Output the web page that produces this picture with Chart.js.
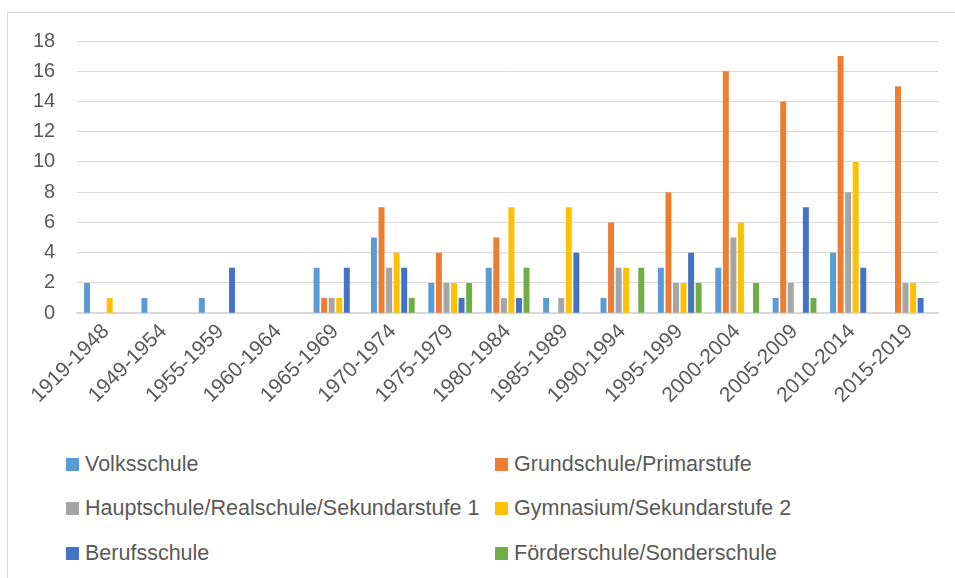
<!DOCTYPE html>
<html>
<head>
    <title>Schulen nach Zeitraum</title>
    <style>
        body {
            margin: 0;
            padding: 0;
            background-color: #ffffff;
            font-family: "Liberation Sans", Arial, sans-serif;
            overflow: hidden;
        }

        .frame {
            position: absolute;
            left: 7px;
            top: 12px;
            width: 960px;
            height: 600px;
            border: 1px solid #d9d9d9;
            box-sizing: border-box;
        }

        .chart-box {
            position: absolute;
            left: 7px;
            top: 12px;
            width: 946px;
            height: 402px;
        }

        /* legend in two columns, like the office chart */
        .legend {
            position: absolute;
            left: 66px;
            top: 442px;
            display: grid;
            grid-template-columns: 429px 400px;
            grid-auto-rows: 44.5px;
            font-size: 21.5px;
            color: #595959;
            white-space: nowrap;
        }

        .legend div {
            display: flex;
            align-items: center;
        }

        .legend span.box {
            display: inline-block;
            width: 13px;
            height: 13px;
            margin-right: 6px;
        }
    </style>
    <script src="https://cdn.jsdelivr.net/npm/chart.js"></script>
</head>
<body>
    <div class="frame"></div>
    <div class="chart-box">
        <canvas id="myChart"></canvas>
    </div>
    <div class="legend" id="legend"></div>

    <script>
        const periods = ['1919-1948', '1949-1954', '1955-1959', '1960-1964', '1965-1969',
            '1970-1974', '1975-1979', '1980-1984', '1985-1989', '1990-1994',
            '1995-1999', '2000-2004', '2005-2009', '2010-2014', '2015-2019'];

        const volksschule   = [2, 1, 1, 0, 3, 5, 2, 3, 1, 1, 3, 3, 1, 4, 0];
        const grundschule   = [0, 0, 0, 0, 1, 7, 4, 5, 0, 6, 8, 16, 14, 17, 15];
        const hauptschule   = [0, 0, 0, 0, 1, 3, 2, 1, 1, 3, 2, 5, 2, 8, 2];
        const gymnasium     = [1, 0, 0, 0, 1, 4, 2, 7, 7, 3, 2, 6, 0, 10, 2];
        const berufsschule  = [0, 0, 3, 0, 3, 3, 1, 1, 4, 0, 4, 0, 7, 3, 1];
        const foerderschule = [0, 0, 0, 0, 0, 1, 2, 3, 0, 3, 2, 2, 1, 0, 0];

        const yTicks = [0, 2, 4, 6, 8, 10, 12, 14, 16, 18];

        const series = [
            { label: 'Volksschule', data: volksschule, color: '#5b9bd5' },
            { label: 'Grundschule/Primarstufe', data: grundschule, color: '#ed7d31' },
            { label: 'Hauptschule/Realschule/Sekundarstufe 1', data: hauptschule, color: '#a5a5a5' },
            { label: 'Gymnasium/Sekundarstufe 2', data: gymnasium, color: '#ffc000' },
            { label: 'Berufsschule', data: berufsschule, color: '#4472c4' },
            { label: 'Förderschule/Sonderschule', data: foerderschule, color: '#70ad47' }
        ];

        const fontFamily = '"Liberation Sans", Arial, sans-serif';

        document.addEventListener("DOMContentLoaded", function() {
            var ctx = document.getElementById('myChart').getContext('2d');
            var myChart = new Chart(ctx, {
                type: 'bar',
                data: {
                    labels: periods,
                    datasets: series.map(s => ({
                        label: s.label,
                        data: s.data,
                        backgroundColor: s.color,
                        borderWidth: 0,
                        categoryPercentage: 0.79,
                        barPercentage: 0.79
                    }))
                },
                options: {
                    responsive: true,
                    maintainAspectRatio: false,
                    animation: false,
                    layout: {
                        padding: { left: 4, right: 15, top: 29, bottom: 0 }
                    },
                    plugins: {
                        legend: { display: false },
                        tooltip: { enabled: false }
                    },
                    scales: {
                        x: {
                            // rotated labels may hang out to the left, like in excel
                            afterFit: s => { s.paddingLeft = 0; s.paddingRight = 0; },
                            grid: { display: false, drawTicks: false },
                            border: { color: '#d9d9d9', width: 1.5 },
                            ticks: {
                                color: '#595959',
                                font: { size: 21, family: fontFamily },
                                maxRotation: 45,
                                minRotation: 45,
                                padding: 6
                            }
                        },
                        y: {
                            min: 0,
                            max: 18,
                            afterBuildTicks: axis => {
                                axis.ticks = yTicks.map(v => ({ value: v }));
                            },
                            afterFit: s => { s.paddingTop = 0; s.paddingBottom = 0; },
                            grid: { color: '#d9d9d9', drawTicks: false },
                            border: { display: false },
                            ticks: {
                                color: '#595959',
                                font: { size: 20, family: fontFamily },
                                padding: 22
                            }
                        }
                    }
                }
            });

            // html legend built from the datasets
            var legend = document.getElementById('legend');
            myChart.data.datasets.forEach(ds => {
                var item = document.createElement('div');
                item.innerHTML = '<span class="box" style="background:' + ds.backgroundColor + '"></span>' + ds.label;
                legend.appendChild(item);
            });
        });
    </script>
</body>
</html>
